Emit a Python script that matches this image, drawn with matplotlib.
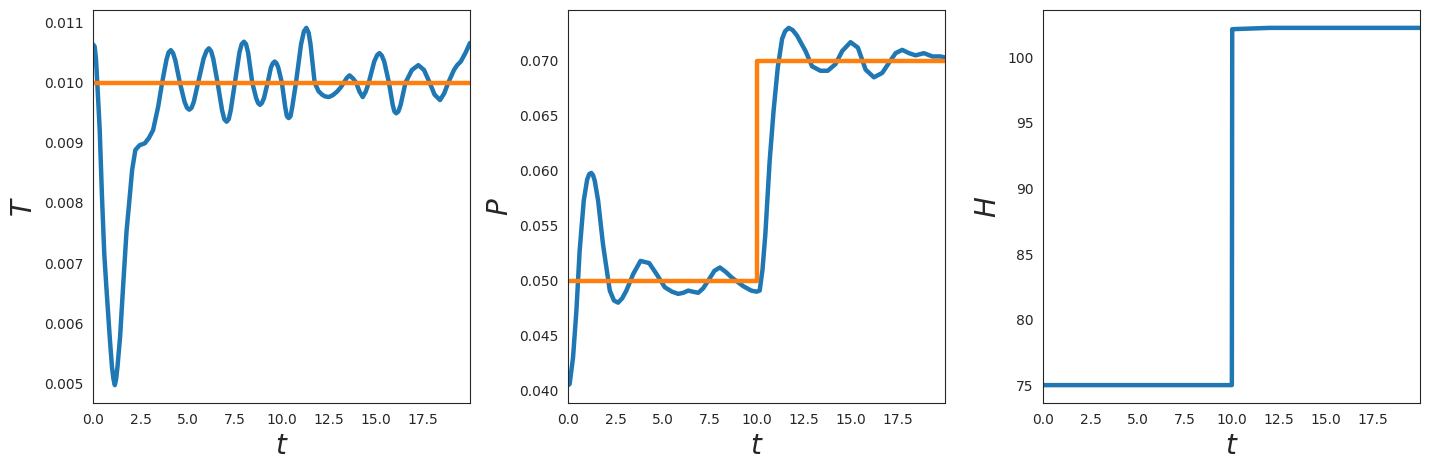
import numpy as np
import matplotlib
matplotlib.use("Agg")
import matplotlib.pyplot as plt
import seaborn as sns

# ---- data ----
t_T = [0.0, 0.07, 0.14, 0.21, 0.34, 0.46, 0.58, 0.69, 0.87, 0.99, 1.07, 1.14, 1.21, 1.28,
       1.42, 1.58, 1.76, 1.93, 2.06, 2.23, 2.46, 2.73, 2.95, 3.17, 3.44, 3.65, 3.88, 3.99,
       4.11, 4.23, 4.35, 4.59, 4.84, 4.97, 5.09, 5.21, 5.33, 5.56, 5.85, 6.01, 6.13, 6.25,
       6.36, 6.59, 6.83, 6.95, 7.07, 7.18, 7.29, 7.51, 7.75, 7.87, 7.99, 8.10, 8.21, 8.43,
       8.64, 8.74, 8.84, 8.94, 9.05, 9.25, 9.42, 9.52, 9.62, 9.72, 9.81, 10.0, 10.18, 10.27,
       10.36, 10.46, 10.55, 10.75, 11.02, 11.17, 11.30, 11.42, 11.52, 11.74, 11.94, 12.13,
       12.30, 12.49, 12.70, 12.93, 13.12, 13.29, 13.45, 13.59, 13.77, 13.94, 14.12, 14.29,
       14.45, 14.61, 14.90, 15.06, 15.18, 15.30, 15.43, 15.68, 15.88, 15.97, 16.07, 16.18,
       16.30, 16.56, 16.90, 17.24, 17.54, 17.84, 18.10, 18.39, 18.61, 18.83, 19.13, 19.30,
       19.49, 19.75, 19.98]
T_vals = [0.01063, 0.01060, 0.01040, 0.01000, 0.00921, 0.00810, 0.00716, 0.00661, 0.00577,
          0.00527, 0.00507, 0.00497, 0.00507, 0.00527, 0.00577, 0.00661, 0.00752, 0.00810,
          0.00855, 0.00888, 0.00896, 0.00899, 0.00908, 0.00921, 0.00960, 0.01000, 0.01038,
          0.01050, 0.01054, 0.01049, 0.01037, 0.01000, 0.00968, 0.00958, 0.00955, 0.00958,
          0.00968, 0.01000, 0.01040, 0.01053, 0.01057, 0.01052, 0.01040, 0.01000, 0.00954,
          0.00939, 0.00935, 0.00939, 0.00954, 0.01000, 0.01050, 0.01064, 0.01068, 0.01064,
          0.01050, 0.01000, 0.00974, 0.00966, 0.00963, 0.00966, 0.00974, 0.01000, 0.01025,
          0.01032, 0.01035, 0.01032, 0.01025, 0.01000, 0.00959, 0.00944, 0.00941, 0.00944,
          0.00959, 0.01000, 0.01064, 0.01085, 0.01091, 0.01083, 0.01064, 0.01000, 0.00986,
          0.00980, 0.00977, 0.00976, 0.00979, 0.00985, 0.00992, 0.01000, 0.01008, 0.01012,
          0.01007, 0.01000, 0.00985, 0.00976, 0.00985, 0.01000, 0.01035, 0.01046, 0.01049,
          0.01045, 0.01035, 0.01000, 0.00963, 0.00952, 0.00949, 0.00952, 0.00963, 0.01000,
          0.01021, 0.01029, 0.01021, 0.01000, 0.00980, 0.00971, 0.00982, 0.01000, 0.01021,
          0.01029, 0.01035, 0.01050, 0.01066]
t_T_set = [0.0, 19.98]
T_set = [0.010, 0.010]

t_P = [0.0, 0.07, 0.25, 0.43, 0.60, 0.82, 1.00, 1.11, 1.22, 1.31, 1.40, 1.58, 1.84, 2.20,
       2.42, 2.64, 2.86, 3.08, 3.44, 3.83, 4.29, 4.68, 5.12, 5.50, 5.83, 6.10, 6.36, 6.60,
       6.89, 7.15, 7.42, 7.75, 8.04, 8.35, 8.66, 9.28, 9.70, 9.99, 10.15, 10.30, 10.45,
       10.58, 10.68, 10.89, 11.11, 11.34, 11.50, 11.69, 11.90, 12.13, 12.58, 12.93, 13.37,
       13.76, 14.17, 14.53, 14.97, 15.36, 15.77, 16.21, 16.65, 17.00, 17.36, 17.71, 18.07,
       18.42, 18.86, 19.31, 19.75, 19.98]
P_vals = [0.0405, 0.0406, 0.0430, 0.0473, 0.0527, 0.0573, 0.0592, 0.0597, 0.0598, 0.0596,
          0.0591, 0.0573, 0.0533, 0.0491, 0.0482, 0.0480, 0.0484, 0.0491, 0.0506, 0.0518,
          0.0516, 0.0506, 0.0494, 0.0490, 0.0488, 0.0489, 0.0491, 0.0490, 0.0489, 0.0493,
          0.0500, 0.0509, 0.0512, 0.0508, 0.0503, 0.0495, 0.0491, 0.0490, 0.0491, 0.0510,
          0.0542, 0.0580, 0.0609, 0.0655, 0.0694, 0.0720, 0.0727, 0.0730, 0.0728, 0.0723,
          0.0709, 0.0695, 0.0691, 0.0691, 0.0697, 0.0709, 0.0717, 0.0712, 0.0692, 0.0685,
          0.0689, 0.0698, 0.0707, 0.0710, 0.0707, 0.0705, 0.0707, 0.0704, 0.0704, 0.0703]
t_P_set = [0.0, 10.0, 19.98]
P_set = [0.050, 0.070, 0.070]

t_H = [0.0, 10.0, 10.02, 12.0, 19.98]
H_vals = [75.0, 75.0, 102.15, 102.25, 102.25]

y_labels = ["$T$", "$P$", "$H$"]
x_label = "$t$"
x_max = 19.98

# ---- plotting ----
sns.set_style("white")
blue = "#1f77b4"
orange = "#ff7f0e"

fig, axes = plt.subplots(1, 3, figsize=(14.29, 4.70), dpi=100)
fig.subplots_adjust(left=0.0653, right=0.9937, top=0.9787, bottom=0.1426, wspace=0.261)

ax = axes[0]
ax.plot(t_T, T_vals, color=blue, lw=3.2)
ax.plot(t_T_set, T_set, color=orange, lw=3.2)

ax = axes[1]
ax.plot(t_P, P_vals, color=blue, lw=3.2)
ax.plot(t_P_set, P_set, color=orange, lw=3.2, drawstyle="steps-post")

ax = axes[2]
ax.plot(t_H, H_vals, color=blue, lw=3.2)

for ax, yl in zip(axes, y_labels):
    ax.set_xlim(0, x_max)
    ax.set_xlabel(x_label, fontsize=20)
    ax.set_ylabel(yl, fontsize=20)
    ax.set_xticks([0, 2.5, 5, 7.5, 10, 12.5, 15, 17.5])

fig.savefig("out.png", dpi=100)
